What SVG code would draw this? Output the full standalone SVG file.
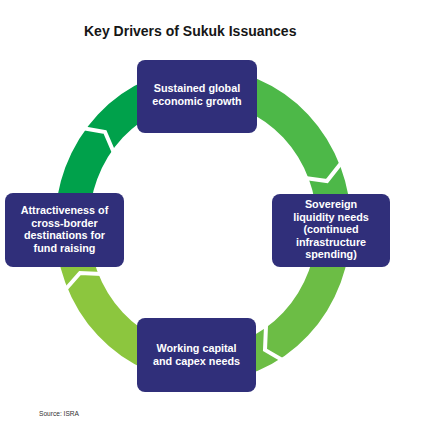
<svg xmlns="http://www.w3.org/2000/svg" width="422" height="440" viewBox="0 0 422 440">
<style>
.ring{fill:none;stroke-width:34;stroke-linecap:butt}
.cut{fill:none;stroke:#fff;stroke-width:4;stroke-linejoin:miter}
.box{fill:#302f7a}
.lbl{font-family:"Liberation Sans",Arial,sans-serif;font-weight:bold;font-size:10.8px;fill:#fff;text-anchor:middle}
.title{font-family:"Liberation Sans",Arial,sans-serif;font-weight:bold;font-size:14px;fill:#161616}
.src{font-family:"Liberation Sans",Arial,sans-serif;font-size:7px;fill:#333}
</style>
<rect width="422" height="440" fill="#fff"/>
<text class="title" x="84" y="36">Key Drivers of Sukuk Issuances</text>
<g id="connectors">
<path class="ring" stroke="#00a14b" d="M72 225 A131 140 0 0 1 203 85"/>
<path class="ring" stroke="#4db848" d="M203 85 A131 140 0 0 1 334 225"/>
<path class="ring" stroke="#6cbd45" d="M334 225 A131 140 0 0 1 203 365"/>
<path class="ring" stroke="#8cc63e" d="M203 365 A131 140 0 0 1 72 225"/>
<polyline class="cut" points="82,128 105,132 114,153"/>
<polyline class="cut" points="342,162 327,181 305,178"/>
<polyline class="cut" points="266,326 265,350 284,361"/>
<polyline class="cut" points="65,290 80,273 102,274"/>
</g>
<g id="node-top">
<rect class="box" x="137" y="60" width="120" height="73" rx="8"/>
<text class="lbl" x="197" y="92">Sustained global</text>
<text class="lbl" x="197" y="105">economic growth</text>
</g>
<g id="node-right">
<rect class="box" x="272" y="194" width="118" height="73" rx="8"/>
<text class="lbl" x="331" y="208">Sovereign</text>
<text class="lbl" x="331" y="220.5">liquidity needs</text>
<text class="lbl" x="331" y="233">(continued</text>
<text class="lbl" x="331" y="245.5">infrastructure</text>
<text class="lbl" x="331" y="258">spending)</text>
</g>
<g id="node-left">
<rect class="box" x="5" y="193" width="119" height="74" rx="8"/>
<text class="lbl" x="64.5" y="214">Attractiveness of</text>
<text class="lbl" x="64.5" y="226.5">cross-border</text>
<text class="lbl" x="64.5" y="239">destinations for</text>
<text class="lbl" x="64.5" y="251.5">fund raising</text>
</g>
<g id="node-bottom">
<rect class="box" x="137" y="318" width="119" height="74" rx="8"/>
<text class="lbl" x="196.5" y="352">Working capital</text>
<text class="lbl" x="196.5" y="365">and capex needs</text>
</g>
<text class="src" x="39" y="416" textLength="40" lengthAdjust="spacingAndGlyphs">Source: ISRA</text>
</svg>
